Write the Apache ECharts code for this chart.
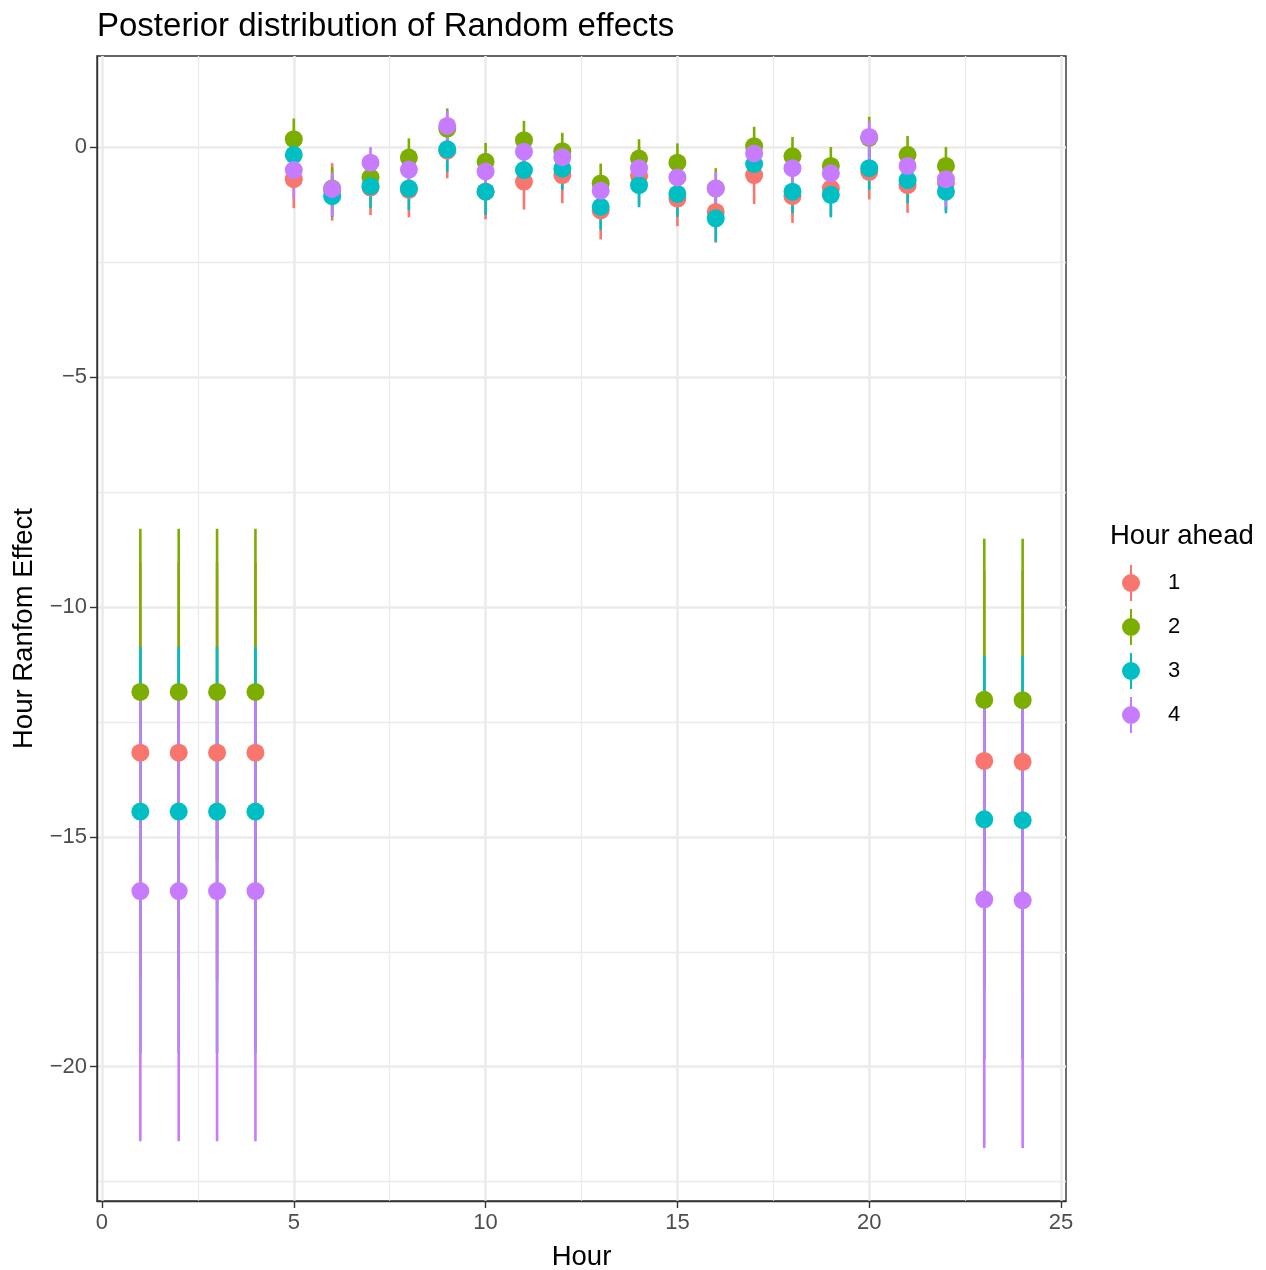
<!DOCTYPE html>
<html>
<head>
<meta charset="utf-8">
<script src="https://cdn.jsdelivr.net/npm/echarts@6/dist/echarts.min.js"></script>
<style>
  body { margin: 0; background: #fff; }
  #main { width: 1266px; height: 1270px; }
</style>
</head>
<body>
<div id="main"></div>
<script>
// hours 1..24
var hours = [1, 2, 3, 4, 5, 6, 7, 8, 9, 10, 11, 12, 13, 14, 15, 16, 17, 18, 19, 20, 21, 22, 23, 24];
var groups = ['1', '2', '3', '4'];
var colors = ['#F8766D', '#7CAE00', '#00BFC4', '#C77CFF'];

// hour ahead 1
var mid1 = [-13.17, -13.17, -13.17, -13.17, -0.70, -0.95, -0.88, -0.93, -0.08, -0.97, -0.75, -0.61, -1.38, -0.63, -1.12, -1.41, -0.61, -1.07, -0.90, -0.54, -0.83, -0.78, -13.35, -13.37];
var lo1 = [-18.1, -18.1, -18.1, -18.1, -1.33, -1.60, -1.48, -1.53, -0.68, -1.57, -1.36, -1.22, -2.01, -1.25, -1.72, -2.08, -1.24, -1.65, -1.50, -1.14, -1.43, -1.38, -18.3, -18.3];
var hi1 = [-9.03, -9.03, -9.03, -9.03, -0.10, -0.35, -0.30, -0.35, 0.50, -0.40, -0.15, 0.00, -0.80, 0.00, -0.50, -0.85, 0.00, -0.45, -0.30, 0.05, -0.20, -0.25, -9.21, -9.21];
// hour ahead 2
var mid2 = [-11.85, -11.85, -11.85, -11.85, 0.17, -0.90, -0.66, -0.23, 0.40, -0.32, 0.15, -0.09, -0.79, -0.25, -0.34, -0.90, 0.02, -0.20, -0.41, 0.20, -0.17, -0.41, -12.02, -12.03];
var lo2 = [-15.5, -15.5, -15.5, -15.5, -0.28, -1.35, -1.10, -0.68, -0.05, -0.75, -0.30, -0.50, -1.22, -0.68, -0.78, -1.35, -0.42, -0.62, -0.84, -0.25, -0.60, -0.84, -15.7, -15.7];
var hi2 = [-8.30, -8.30, -8.30, -8.30, 0.62, -0.44, -0.22, 0.19, 0.84, 0.09, 0.57, 0.31, -0.36, 0.17, 0.08, -0.46, 0.44, 0.22, 0.00, 0.66, 0.24, 0.00, -8.52, -8.52];
// hour ahead 3
var mid3 = [-14.45, -14.45, -14.45, -14.45, -0.17, -1.07, -0.85, -0.90, -0.05, -0.97, -0.50, -0.47, -1.30, -0.83, -1.02, -1.55, -0.37, -0.97, -1.04, -0.46, -0.72, -0.97, -14.62, -14.64];
var lo3 = [-19.7, -19.7, -19.7, -19.7, -0.70, -1.52, -1.33, -1.37, -0.54, -1.48, -0.90, -0.93, -1.80, -1.31, -1.52, -2.06, -0.80, -1.44, -1.53, -0.93, -1.22, -1.44, -19.83, -19.83];
var hi3 = [-10.87, -10.87, -10.87, -10.87, 0.30, -0.62, -0.40, -0.45, 0.40, -0.50, -0.05, -0.05, -0.85, -0.40, -0.55, -1.10, 0.05, -0.50, -0.60, 0.00, -0.30, -0.50, -11.07, -11.07];
// hour ahead 4
var mid4 = [-16.18, -16.18, -16.18, -16.18, -0.50, -0.91, -0.34, -0.49, 0.46, -0.53, -0.10, -0.22, -0.95, -0.46, -0.66, -0.90, -0.14, -0.46, -0.57, 0.22, -0.41, -0.70, -16.36, -16.38];
var lo4 = [-21.62, -21.62, -21.62, -21.62, -1.12, -1.50, -0.80, -0.95, 0.05, -1.00, -0.55, -0.60, -1.40, -0.95, -1.10, -1.30, -0.55, -0.85, -1.00, -0.30, -0.85, -1.30, -21.77, -21.77];
var hi4 = [-11.95, -11.95, -11.95, -11.95, 0.10, -0.56, 0.00, -0.10, 0.79, -0.10, 0.30, 0.05, -0.60, -0.10, -0.20, -0.54, 0.20, -0.05, -0.25, 0.57, -0.05, -0.30, -12.1, -12.1];

var xMajor = [0, 5, 10, 15, 20, 25];
var xMinor = [2.5, 7.5, 12.5, 17.5, 22.5];
var yMajor = [0, -5, -10, -15, -20];
var yMinor = [-2.5, -7.5, -12.5, -17.5, -22.5];

var mids = [mid1, mid2, mid3, mid4];
var los = [lo1, lo2, lo3, lo4];
var his = [hi1, hi2, hi3, hi4];

var FONT = 'Liberation Sans, Arial, sans-serif';

function rangeItem(params, api) {
  var x = api.value(0);
  var p1 = api.coord([x, api.value(2)]);
  var p2 = api.coord([x, api.value(1)]);
  return {
    type: 'line',
    shape: { x1: p1[0], y1: p1[1], x2: p2[0], y2: p2[1] },
    style: { stroke: api.visual('color'), lineWidth: 2.6 }
  };
}

var series = [];
// all ranges first, then all points (like pointrange)
groups.forEach(function (g, k) {
  series.push({
    name: g,
    type: 'custom',
    renderItem: rangeItem,
    itemStyle: { color: colors[k] },
    encode: { x: 0, y: [1, 2] },
    data: hours.map(function (h, i) { return [h, los[k][i], his[k][i]]; }),
    z: 2,
    silent: true
  });
});
groups.forEach(function (g, k) {
  series.push({
    name: g,
    type: 'scatter',
    symbol: 'circle',
    symbolSize: 18,
    itemStyle: { color: colors[k], opacity: 1 },
    data: hours.map(function (h, i) { return [h, mids[k][i]]; }),
    z: 3,
    silent: true
  });
});

var keyIcon = 'path://M8,0 L10,0 L10,36 L8,36 Z M0,18 A9,9 0 1,1 18,18 A9,9 0 1,1 0,18 Z';

var option = {
  backgroundColor: '#ffffff',
  animation: false,
  title: [{
    text: 'Posterior distribution of Random effects',
    left: 97,
    top: 10,
    padding: 0,
    textStyle: { fontFamily: FONT, fontSize: 33, fontWeight: 'normal', color: '#000' }
  }, {
    text: 'Hour ahead',
    left: 1110,
    top: 522,
    padding: 0,
    textStyle: { fontFamily: FONT, fontSize: 27.5, fontWeight: 'normal', color: '#000' }
  }],
  legend: {
    data: groups.map(function (g) { return { name: g, icon: keyIcon }; }),
    orient: 'vertical',
    left: 1122,
    top: 565,
    padding: 0,
    itemWidth: 18,
    itemHeight: 36,
    itemGap: 8,
    selectedMode: false,
    textStyle: { fontFamily: FONT, fontSize: 22, color: '#000', padding: [0, 0, 0, 23] }
  },
  grid: {
    left: 97,
    right: 200,
    top: 56,
    bottom: 69,
    containLabel: false,
    outerBoundsMode: 'none',
    show: true,
    borderColor: '#333333',
    borderWidth: 1.4,
    backgroundColor: '#ffffff'
  },
  xAxis: [{
    type: 'value',
    min: -0.13,
    max: 25.13,
    name: 'Hour',
    nameLocation: 'middle',
    nameGap: 42,
    nameTextStyle: { fontFamily: FONT, fontSize: 27.5, color: '#000' },
    axisLine: { show: true, onZero: false, lineStyle: { color: '#333333', width: 1.4 } },
    axisTick: { show: true, length: 7, customValues: xMajor, lineStyle: { color: '#333333', width: 1.4 } },
    axisLabel: { customValues: xMajor, margin: 11, fontFamily: FONT, fontSize: 22, color: '#4D4D4D' },
    splitLine: { show: true, lineStyle: { color: '#EBEBEB', width: 2.6 } }
  }, {
    type: 'value',
    min: -0.13,
    max: 25.13,
    position: 'top',
    axisLine: { show: false },
    axisTick: { show: false, customValues: xMinor },
    axisLabel: { show: false, customValues: xMinor },
    splitLine: { show: true, lineStyle: { color: '#EBEBEB', width: 1.3 } }
  }],
  yAxis: [{
    type: 'value',
    min: -22.92,
    max: 1.98,
    name: 'Hour Ranfom Effect',
    nameLocation: 'middle',
    nameGap: 57,
    nameTextStyle: { fontFamily: FONT, fontSize: 27.5, color: '#000' },
    axisLine: { show: true, onZero: false, lineStyle: { color: '#333333', width: 1.4 } },
    axisTick: { show: true, length: 7, customValues: yMajor, lineStyle: { color: '#333333', width: 1.4 } },
    axisLabel: {
      customValues: yMajor,
      margin: 10,
      fontFamily: FONT,
      fontSize: 22,
      color: '#4D4D4D',
      formatter: function (v) { return v === 0 ? '0' : String(v).replace('-', '\u2212'); }
    },
    splitLine: { show: true, lineStyle: { color: '#EBEBEB', width: 2.6 } }
  }, {
    type: 'value',
    min: -22.92,
    max: 1.98,
    position: 'right',
    axisLine: { show: false },
    axisTick: { show: false, customValues: yMinor },
    axisLabel: { show: false, customValues: yMinor },
    splitLine: { show: true, lineStyle: { color: '#EBEBEB', width: 1.3 } }
  }],
  series: series
};

var chart = echarts.init(document.getElementById('main'));
chart.setOption(option);
</script>
</body>
</html>
